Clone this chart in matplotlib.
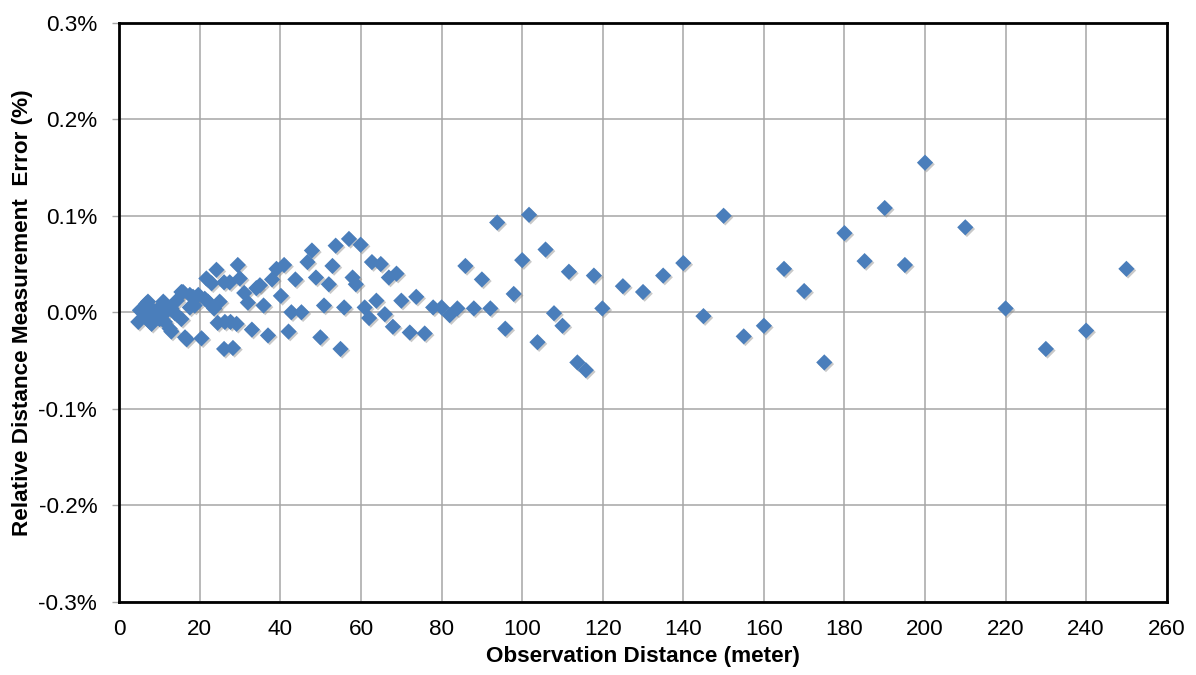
import matplotlib
matplotlib.use("Agg")
import matplotlib.pyplot as plt
import matplotlib.patheffects as pe
from matplotlib.ticker import FuncFormatter

# Observation distance (m) and relative error (%)
distance = [
    4.7, 5.1, 5.9, 6.7, 7.1, 6.7, 7.6, 8.4, 8.0, 9.6, 10.0, 10.5, 10.9, 11.3, 11.3,
    12.5, 12.9, 12.9, 13.8, 14.2, 15.4, 15.4, 15.8, 16.3, 16.7, 17.5, 17.5, 18.3, 18.7,
    19.6, 20.4, 21.2, 21.6, 22.0, 22.9, 23.5, 24.1, 24.4, 24.9, 26.0, 26.2, 26.0, 27.4,
    27.6, 28.2, 29.1, 29.4, 29.9, 31.0, 31.9, 32.9, 34.0, 34.9, 35.8, 36.9, 37.9, 39.0,
    40.1, 40.9, 42.0, 42.7, 43.7, 45.2, 46.7, 47.8, 48.8, 49.9, 50.8, 52.0, 52.9, 53.7,
    54.9, 55.8, 57.0, 57.9, 58.7, 59.9, 60.9, 62.0, 62.7, 63.8, 64.9, 65.9, 66.9, 67.9,
    68.8, 70.0, 72.1, 73.7, 75.8, 77.9, 80.0, 82.0, 83.9, 85.9, 88.0, 90.0, 92.1, 93.8,
    95.8, 97.9, 100.0, 101.7, 103.8, 105.8, 107.9, 110.0, 111.6, 113.7, 115.8, 117.8,
    119.9, 125.0, 130.0, 135.0, 140.0, 145.0, 150.0, 155.0, 160.0, 165.0, 170.0, 175.0,
    180.0, 185.0, 190.0, 195.0, 200.0, 210.0, 220.0, 230.0, 240.0, 250.0,
]
rel_error = [
    -0.010, 0.002, 0.000, 0.009, 0.011, -0.005, -0.010, 0.002, -0.012, -0.005, -0.007,
    0.007, 0.011, -0.001, -0.010, -0.017, 0.004, -0.020, -0.001, 0.012, 0.021, -0.007,
    0.021, -0.026, -0.028, 0.018, 0.005, 0.016, 0.007, 0.018, -0.027, 0.014, 0.035,
    0.011, 0.030, 0.004, 0.044, -0.011, 0.011, 0.031, -0.010, -0.038, 0.031, -0.010,
    -0.037, -0.012, 0.049, 0.035, 0.020, 0.010, -0.018, 0.025, 0.028, 0.007, -0.024,
    0.034, 0.045, 0.017, 0.049, -0.020, 0.000, 0.034, 0.000, 0.052, 0.064, 0.036,
    -0.026, 0.007, 0.029, 0.048, 0.069, -0.038, 0.005, 0.076, 0.036, 0.029, 0.070,
    0.005, -0.006, 0.052, 0.012, 0.050, -0.002, 0.036, -0.015, 0.040, 0.012, -0.021,
    0.016, -0.022, 0.005, 0.005, -0.003, 0.004, 0.048, 0.004, 0.034, 0.004, 0.093,
    -0.017, 0.019, 0.054, 0.101, -0.031, 0.065, -0.001, -0.014, 0.042, -0.052, -0.060,
    0.038, 0.004, 0.027, 0.021, 0.038, 0.051, -0.004, 0.100, -0.025, -0.014, 0.045,
    0.022, -0.052, 0.082, 0.053, 0.108, 0.049, 0.155, 0.088, 0.004, -0.038, -0.019, 0.045,
]

x_ticks = list(range(0, 261, 20))
y_ticks = [-0.3, -0.2, -0.1, 0.0, 0.1, 0.2, 0.3]
x_label = "Observation Distance (meter)"
y_label = "Relative Distance Measurement  Error (%)"

plt.rcParams['font.family'] = ['Liberation Sans', 'DejaVu Sans']

fig = plt.figure(figsize=(11.96, 6.75), dpi=100)
ax = fig.add_axes([0.0998, 0.1085, 0.8757, 0.8578])

ax.set_xlim(0, 260)
ax.set_ylim(-0.3, 0.3)
ax.set_xticks(x_ticks)
ax.set_yticks(y_ticks)
ax.yaxis.set_major_formatter(FuncFormatter(lambda v, p: f"{v:.1f}%"))
ax.grid(True, color="#A6A6A6", linewidth=1.1)
ax.set_axisbelow(True)

for s in ax.spines.values():
    s.set_color("black")
    s.set_linewidth(2.0)

ax.tick_params(axis="y", length=5, width=1, color="#A6A6A6", labelsize=16.2, pad=11)
ax.tick_params(axis="x", length=0, labelsize=16.2, pad=12.5)

sc = ax.scatter(distance, rel_error, marker="D", s=68, color="#4A7EBB",
                edgecolors="none", zorder=3)
sc.set_path_effects([pe.SimplePatchShadow(offset=(1.2, -1.2), shadow_rgbFace="#888888", alpha=0.45),
                     pe.Normal()])

ax.set_xlabel(x_label, fontsize=16.2, fontweight="bold", labelpad=4)
ax.set_ylabel(y_label, fontsize=16.2, fontweight="bold", labelpad=4)

fig.savefig("out.png", dpi=100, facecolor="white")
